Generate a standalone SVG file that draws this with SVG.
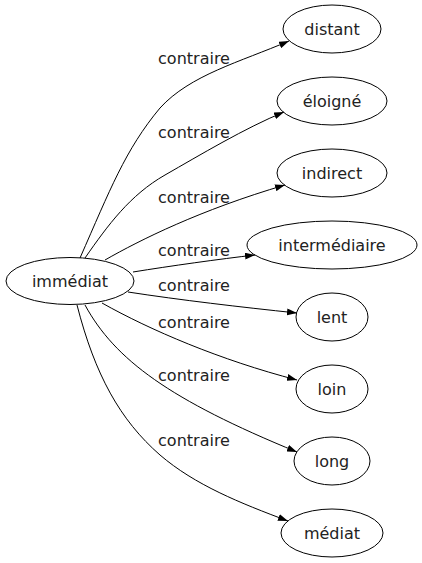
<svg xmlns="http://www.w3.org/2000/svg" width="422" height="563" viewBox="0 0 422 563">
<style>
  .n ellipse { fill: none; stroke: #000; stroke-width: 1; }
  text { font-family: "DejaVu Sans", sans-serif; font-size: 16px; fill: #222; text-anchor: middle; }
  .e path { fill: none; stroke: #000; stroke-width: 1; }
</style>
<defs>
  <marker id="arr" viewBox="0 0 10 7" refX="10" refY="3.5" markerWidth="10" markerHeight="7" markerUnits="userSpaceOnUse" orient="auto">
    <path d="M0,0 L10,3.5 L0,7 Z" fill="#000"/>
  </marker>
</defs>
<rect width="422" height="563" fill="#fff"/>
<g id="edges" class="e">
  <path d="M80,258 C110,190 125,150 160,108 C190,75 240,62 289,41" marker-end="url(#arr)"/>
  <path d="M85,258 C108,225 130,195 165,175 C200,155 245,128 284,112" marker-end="url(#arr)"/>
  <path d="M105,260 C140,240 200,210 285,185" marker-end="url(#arr)"/>
  <path d="M133,272 C170,266 220,259 255,255" marker-end="url(#arr)"/>
  <path d="M128,292 C180,300 240,307 297,313" marker-end="url(#arr)"/>
  <path d="M102,303 C150,330 220,360 297,380" marker-end="url(#arr)"/>
  <path d="M85,305 C115,360 170,400 297,452" marker-end="url(#arr)"/>
  <path d="M77,305 C95,375 120,420 160,455 C195,485 240,503 288,521" marker-end="url(#arr)"/>
  <text x="194" y="64">contraire</text>
  <text x="194" y="138">contraire</text>
  <text x="194" y="203">contraire</text>
  <text x="194" y="256">contraire</text>
  <text x="194" y="291">contraire</text>
  <text x="194" y="328">contraire</text>
  <text x="194" y="381">contraire</text>
  <text x="194" y="446">contraire</text>
</g>
<g id="immediat" class="n"><ellipse cx="70" cy="281" rx="64" ry="23.5"/><text x="70" y="286.5">immédiat</text></g>
<g id="distant" class="n"><ellipse cx="332" cy="29" rx="49" ry="24"/><text x="332" y="34.5">distant</text></g>
<g id="eloigne" class="n"><ellipse cx="332" cy="101" rx="55" ry="24"/><text x="332" y="106.5">éloigné</text></g>
<g id="indirect" class="n"><ellipse cx="332" cy="173" rx="55" ry="24"/><text x="332" y="178.5">indirect</text></g>
<g id="intermediaire" class="n"><ellipse cx="332" cy="245" rx="85" ry="24"/><text x="332" y="250.5">intermédiaire</text></g>
<g id="lent" class="n"><ellipse cx="332" cy="317" rx="36" ry="24"/><text x="332" y="322.5">lent</text></g>
<g id="loin" class="n"><ellipse cx="332" cy="389" rx="36" ry="24"/><text x="332" y="394.5">loin</text></g>
<g id="long" class="n"><ellipse cx="332" cy="461" rx="38" ry="24"/><text x="332" y="466.5">long</text></g>
<g id="mediat" class="n"><ellipse cx="332" cy="533" rx="51" ry="24"/><text x="332" y="538.5">médiat</text></g>
</svg>
